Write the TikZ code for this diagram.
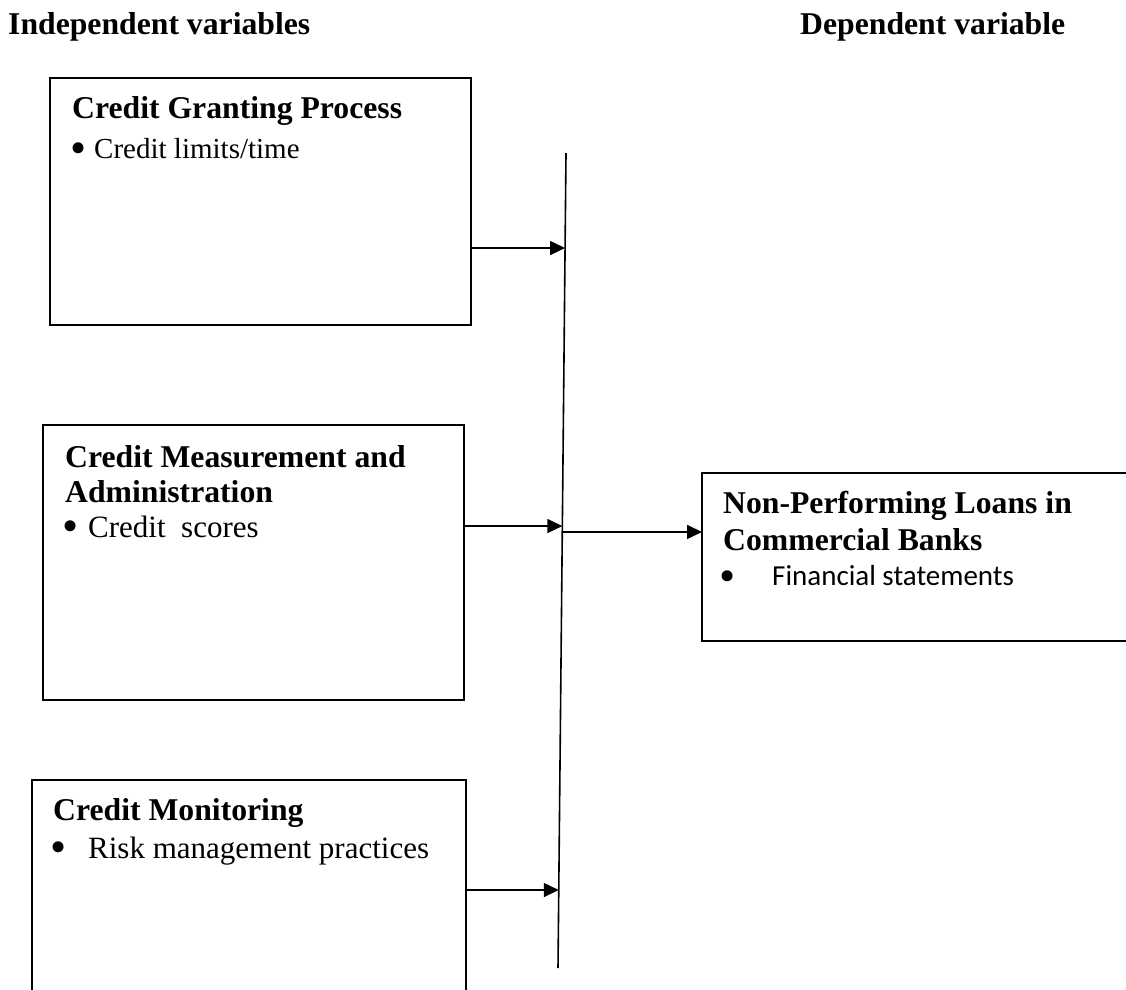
\documentclass[tikz,border=0pt]{standalone}
\usepackage{fontspec}
\setmainfont{Liberation Serif}
\newfontfamily\calib{Carlito}
\usetikzlibrary{calc,arrows.meta}
\tikzset{
  box/.style={draw, line width=1.6pt, rectangle, anchor=north west, inner sep=0pt, outer sep=0pt},
  head/.style={anchor=base west, inner sep=0pt, font=\fontsize{31.7}{36}\selectfont\bfseries},
  item/.style={anchor=base west, inner sep=0pt, font=\fontsize{29}{34}\selectfont},
  bigitem/.style={anchor=base west, inner sep=0pt, font=\fontsize{31}{36}\selectfont},
  sitem/.style={anchor=base west, inner sep=0pt, font=\fontsize{29}{34}\selectfont\calib},
  bul/.style={anchor=center, inner sep=0pt, font=\fontsize{46}{50}\selectfont},
  arr/.style={line width=1.6pt, -{Triangle[length=15pt,width=14pt]}},
  vline/.style={line width=1.6pt},
}
\begin{document}
\begin{tikzpicture}[x=1pt,y=-1pt]
\useasboundingbox (0,0) rectangle (1126,989);
\clip (0,0) rectangle (1126,989);
% headers
\node[head] (h1) at (8,34) {Independent variables};
\node[head] (h2) at (800,34) {Dependent variable};
% boxes
\node[box, minimum width=421pt, minimum height=247pt] (b1) at (50,78) {};
\node[box, minimum width=421pt, minimum height=275pt] (b2) at (43,425) {};
\node[box, minimum width=434pt, minimum height=230pt] (b3) at (32,780) {};
\node[box, minimum width=440pt, minimum height=168pt] (b4) at (702,473) {};
% box 1 text
\node[head] (t1) at (72,118) {Credit Granting Process};
\node[bul] (p1) at (78.5,153) {\textbullet};
\node[item] (i1) at (94,158) {Credit limits/time};
% box 2 text
\node[head] (t2a) at (65,467) {Credit Measurement and};
\node[head] (t2b) at (65,502) {Administration};
\node[bul] (p2) at (71,531) {\textbullet};
\node[bigitem] (i2) at (88,537) {Credit\ \ scores};
% box 3 text
\node[head] (t3) at (53,820) {Credit Monitoring};
\node[bul] (p3) at (59,852) {\textbullet};
\node[bigitem] (i3) at (88,858) {Risk management practices};
% box 4 text
\node[head] (t4a) at (723,513) {Non-Performing Loans in};
\node[head] (t4b) at (723,550) {Commercial Banks};
\node[bul] (p4) at (728,581) {\textbullet};
\node[sitem] (i4) at (772,585) {Financial statements};
% vertical line
\coordinate (vtop) at (566,153);
\coordinate (vbot) at (558,968);
\draw[vline] (vtop) -- (vbot);
\coordinate (a1) at ($(vtop)!0.1166!(vbot)$);
\coordinate (a2) at ($(vtop)!0.4577!(vbot)$);
\coordinate (a3) at ($(vtop)!0.9043!(vbot)$);
\coordinate (a4) at ($(vtop)!0.4650!(vbot)$);
% arrows
\draw[arr] (b1.east |- a1) -- (a1);
\draw[arr] (b2.east |- a2) -- (a2);
\draw[arr] (b3.east |- a3) -- (a3);
\draw[arr] (a4) -- (b4.west |- a4);
\end{tikzpicture}
\end{document}
